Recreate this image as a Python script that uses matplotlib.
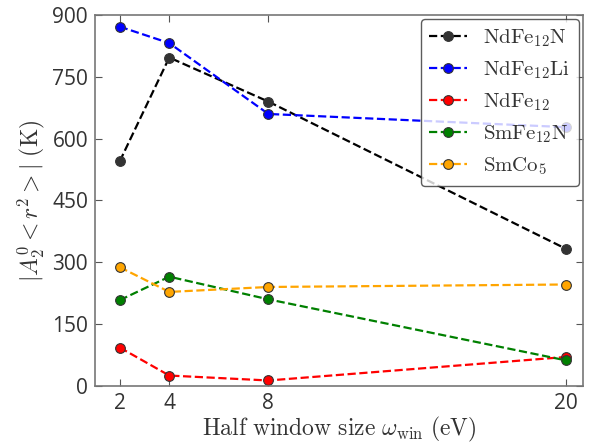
import matplotlib
matplotlib.use('Agg')
import matplotlib.pyplot as plt

# data
window = [2, 4, 8, 20]
ndfe12n = [545, 797, 690, 333]
ndfe12li = [872, 832, 660, 628]
ndfe12 = [93, 25, 13, 70]
smfe12n = [208, 265, 210, 62]
smco5 = [288, 228, 240, 246]

series = [
    (r'$\mathrm{NdFe_{12}N}$', ndfe12n, 'black', '#333333'),
    (r'$\mathrm{NdFe_{12}Li}$', ndfe12li, 'blue', 'blue'),
    (r'$\mathrm{NdFe_{12}}$', ndfe12, 'red', 'red'),
    (r'$\mathrm{SmFe_{12}N}$', smfe12n, 'green', 'green'),
    (r'$\mathrm{SmCo_5}$', smco5, 'orange', 'orange'),
]

plt.rcParams['mathtext.fontset'] = 'cm'
plt.rcParams['font.family'] = ['Open Sans', 'DejaVu Sans']

fig, ax = plt.subplots(figsize=(6.01, 4.44), dpi=100)
fig.subplots_adjust(left=0.158, right=0.97, top=0.966, bottom=0.131)

for label, vals, lc, fc in series:
    ax.plot(window, vals, '--o', color=lc, markerfacecolor=fc,
            markeredgecolor='#333333', markeredgewidth=0.8,
            markersize=7, linewidth=1.6, label=label)

ax.set_xlim(1, 20.7)
ax.set_ylim(0, 900)
ax.set_xticks(window)
ax.set_yticks([0, 150, 300, 450, 600, 750, 900])

ax.tick_params(direction='in', top=True, right=True, labelsize=15,
               colors='#555555', labelcolor='#333333', length=5, pad=5)
for sp in ax.spines.values():
    sp.set_color('#777777')
    sp.set_linewidth(1.2)

ax.set_xlabel(r'$\mathrm{Half\ window\ size}\ \omega_{\mathrm{win}}\ \mathrm{(eV)}$',
              fontsize=17, color='#333333', labelpad=1)
ax.set_ylabel(r'$|A_2^0 < r^2 >|\ \mathrm{(K)}$', fontsize=17, color='#333333')

leg = ax.legend(loc='upper right', fontsize=15, framealpha=0.8,
                edgecolor='#333333', borderpad=0.4, labelspacing=0.5,
                handlelength=1.8, borderaxespad=0.2)
for t in leg.get_texts():
    t.set_color('#333333')

fig.savefig('out.png', dpi=100)
